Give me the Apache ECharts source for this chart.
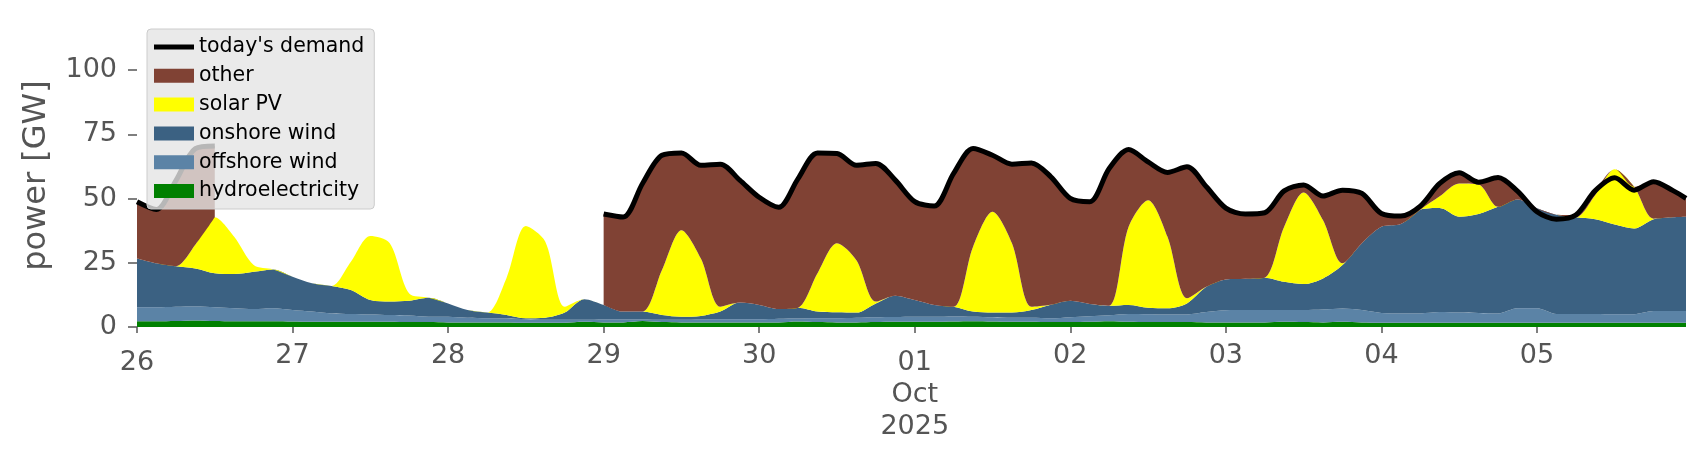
<!DOCTYPE html>
<html>
<head>
<meta charset="utf-8">
<script src="https://cdn.jsdelivr.net/npm/echarts@6/dist/echarts.min.js"></script>
<style>
  html, body { margin: 0; padding: 0; background: #fff; }
  #chart { width: 1706px; height: 460px; }
</style>
</head>
<body>
<div id="chart"></div>
<script>
// hours since 26 Sep 2025 00:00, one sample every 3 h, last one 5 Oct 23:00
const hours = [];
for (let h = 0; h <= 237; h += 3) hours.push(h);
hours.push(239);

const dayLabels = ['26', '27', '28', '29', '30', '01', '02', '03', '04', '05'];
const monthStart = '01';
const monthLabel = ['Oct', '2025'];
const yTicks = [0, 25, 50, 75, 100];

// GW (8 values per day)
const hydro = [
  2.2, 2.2, 2.3, 2.5, 2.3, 2.2, 2.2, 2.2,
  2.1, 2.0, 2.0, 2.0, 2.0, 2.0, 1.9, 1.9,
  1.8, 1.8, 1.8, 1.8, 1.7, 1.7, 1.7, 2.0,
  1.8, 1.8, 2.3, 1.9, 1.8, 1.8, 1.8, 1.8,
  1.8, 1.8, 2.1, 1.9, 1.8, 1.8, 1.9, 2.0,
  2.0, 2.0, 2.1, 2.2, 2.1, 2.0, 2.0, 1.9,
  1.9, 2.0, 2.2, 2.0, 1.9, 1.9, 1.9, 1.8,
  1.8, 1.8, 1.8, 2.0, 1.9, 1.8, 2.0, 1.8,
  1.7, 1.7, 1.7, 1.7, 1.7, 1.7, 1.7, 1.7,
  1.7, 1.7, 1.7, 1.7, 1.7, 1.7, 1.7, 1.7,
  1.7
];
const offshore = [
  5.5, 5.5, 5.6, 5.5, 5.4, 5.1, 4.8, 5.1,
  4.5, 4.0, 3.3, 3.1, 2.9, 2.7, 2.6, 2.1,
  2.2, 1.8, 1.6, 1.5, 1.3, 1.1, 1.1, 0.8,
  1.1, 1.1, 0.6, 0.9, 1.0, 1.1, 1.2, 1.2,
  1.2, 1.4, 1.2, 1.5, 1.6, 1.8, 1.9, 1.9,
  2.0, 2.0, 2.0, 1.8, 1.7, 1.6, 1.6, 1.5,
  1.9, 2.2, 2.4, 3.1, 3.1, 3.0, 3.0, 4.0,
  4.7, 4.8, 4.8, 4.6, 4.7, 5.0, 5.2, 4.8,
  3.8, 3.6, 3.6, 4.1, 3.9, 3.8, 3.6, 5.6,
  5.6, 3.4, 3.4, 3.4, 3.3, 3.3, 4.5, 4.5,
  4.5
];
const onshore = [
  19.0, 17.1, 15.8, 14.8, 13.2, 13.3, 14.5, 15.1,
  13.0, 11.0, 10.7, 9.3, 5.6, 5.2, 5.7, 7.4,
  5.2, 3.0, 2.2, 1.4, 0.4, 0.8, 2.8, 8.0,
  5.7, 3.1, 3.1, 1.9, 1.2, 1.4, 3.0, 6.5,
  5.6, 3.8, 4.2, 2.6, 2.3, 2.0, 5.4, 8.3,
  6.5, 4.6, 3.8, 2.0, 1.8, 2.0, 3.0, 5.3,
  6.4, 4.8, 3.7, 3.5, 2.5, 2.4, 4.3, 9.9,
  12.0, 12.2, 12.6, 11.0, 10.1, 12.1, 16.9, 26.0,
  33.5, 34.8, 40.4, 40.5, 37.3, 38.5, 41.5, 42.4,
  38.9, 38.6, 37.6, 36.9, 34.9, 33.4, 35.8, 36.5,
  36.7
];
const solar = [
  0, 0, 0, 9.2, 21.8, 14.5, 2.6, 0,
  0, 0, 0, 11.0, 24.9, 22.7, 2.8, 0,
  0, 0, 0, 14.3, 35.9, 29.6, 2.3, 0,
  0, 0, 0, 17.5, 33.7, 22.4, 1.9, 0,
  0, 0, 0, 14.9, 26.9, 20.4, 0.7, 0,
  0, 0, 0, 25.3, 39.3, 27.0, 1.3, 0,
  0, 0, 0, 30.4, 41.9, 27.8, 2.0, 0,
  0, 0, 0, 21.4, 35.7, 22.7, 0.7, 0,
  0, 0, 0, 4.6, 13.0, 11.5, 0, 0,
  0, 0, 0, 9.4, 21.5, 16.2, 0.2, 0,
  0
];
const other = [
  22.1, 21.0, 33.3, 37.5, 27.8, null, null, null,
  null, null, null, null, null, null, null, null,
  null, null, null, null, null, null, null, null,
  35.4, 36.8, 49.9, 44.7, 30.1, 36.3, 55.5, 47.7,
  41.9, 39.6, 50.3, 46.9, 35.0, 37.0, 53.8, 45.0,
  38.3, 38.5, 51.9, 38.2, 22.0, 30.8, 56.0, 49.8,
  39.9, 39.8, 53.4, 30.1, 14.9, 25.1, 51.2, 38.9,
  27.8, 25.2, 25.3, 14.0, 2.9, 9.4, 28.5, 19.4,
  5.2, 3.1, 1.4, 5.0, 4.2, 0.9, 11.4, 3.2,
  0, 0, 0.9, 1.7, 0, 0, 14.4, 10.4,
  7.2
];
const demand = [
  48.8, 45.8, 57.0, 69.5, 70.5, null, null, null,
  null, null, null, null, null, null, null, null,
  null, null, null, null, null, null, null, null,
  44.0, 42.8, 55.9, 66.9, 67.8, 63.0, 63.4, 57.2,
  50.5, 46.6, 57.8, 67.8, 67.6, 63.0, 63.7, 57.2,
  48.8, 47.1, 59.8, 69.5, 66.9, 63.4, 63.9, 58.5,
  50.1, 48.8, 61.7, 69.1, 64.3, 60.2, 62.4, 54.6,
  46.3, 44.0, 44.5, 53.0, 55.3, 51.0, 53.3, 52.0,
  44.2, 43.2, 47.1, 55.9, 60.1, 56.4, 58.2, 52.9,
  44.9, 42.0, 43.6, 53.1, 58.1, 53.3, 56.6, 53.1,
  50.1
];

const t0 = Date.UTC(2025, 8, 26);
const HOUR = 3600 * 1000;
const DAY = 24 * HOUR;
const pairs = (arr) => hours.map((h, i) => [t0 + h * HOUR, arr[i]]);
const font = 'DejaVu Sans';
const grey = '#555555';

const area = (name, values, color) => ({
  name: name,
  type: 'line',
  stack: 'gen',
  data: pairs(values),
  smooth: 0.3,
  symbol: 'none',
  lineStyle: { width: 0 },
  itemStyle: { color: color },
  areaStyle: { color: color, opacity: 1 },
  emphasis: { disabled: true },
  z: 2
});

const chart = echarts.init(document.getElementById('chart'));

chart.setOption({
  animation: false,
  useUTC: true,
  backgroundColor: '#ffffff',
  grid: { left: 137, right: 20, top: 24, bottom: 133, outerBoundsMode: 'none' },
  legend: {
    orient: 'vertical',
    left: 147,
    top: 29,
    padding: [7, 10, 7, 7],
    itemWidth: 40,
    itemHeight: 14,
    itemGap: 6.8,
    itemTextGap: 15,
    symbolKeepAspect: true,
    selectedMode: false,
    backgroundColor: 'rgba(229,229,229,0.8)',
    borderColor: '#cccccc',
    borderWidth: 1,
    borderRadius: 4,
    itemStyle: { borderWidth: 0 },
    textStyle: { fontSize: 20.5, lineHeight: 22, color: '#000', fontFamily: font },
    data: [
      { name: "today's demand", icon: 'path://M0 0H40V5H0Z' },
      { name: 'other', icon: 'rect' },
      { name: 'solar PV', icon: 'rect' },
      { name: 'onshore wind', icon: 'rect' },
      { name: 'offshore wind', icon: 'rect' },
      { name: 'hydroelectricity', icon: 'rect' }
    ]
  },
  xAxis: {
    type: 'time',
    min: t0,
    max: t0 + 239 * HOUR,
    minInterval: DAY,
    maxInterval: DAY,
    axisLine: { show: false },
    splitLine: { show: false },
    axisTick: { show: true, length: 6, lineStyle: { color: grey, width: 1.5 } },
    axisLabel: {
      margin: 13,
      hideOverlap: false,
      formatter: (v) => {
        const i = Math.round((v - t0) / DAY);
        const d = dayLabels[i];
        if (d === undefined || Math.abs(v - (t0 + i * DAY)) > HOUR) return '';
        if (i === 0) return '{sp| }\n{t|' + d + '}';
        if (d === monthStart) {
          return '{sp| }\n{t|' + d + '}\n{t|' + monthLabel[0] + '}\n{t|' + monthLabel[1] + '}';
        }
        return '{t|' + d + '}';
      },
      rich: {
        t: { fontSize: 27, lineHeight: 32, color: grey, fontFamily: font },
        sp: { fontSize: 1, lineHeight: 7 }
      }
    }
  },
  yAxis: {
    type: 'value',
    min: 0,
    max: 118,
    name: 'power [GW]',
    nameLocation: 'middle',
    nameRotate: 90,
    nameGap: 84,
    nameTextStyle: { fontSize: 32, color: grey, fontFamily: font },
    axisLine: { show: false },
    splitLine: { show: false },
    axisTick: { show: true, length: 9, customValues: yTicks, lineStyle: { color: grey, width: 1.5 } },
    axisLabel: { customValues: yTicks, margin: 20, fontSize: 27, color: grey, fontFamily: font }
  },
  series: [
    area('hydroelectricity', hydro, '#008000'),
    area('offshore wind', offshore, '#5b83a6'),
    area('onshore wind', onshore, '#3b6182'),
    area('solar PV', solar, '#ffff00'),
    area('other', other, '#804234'),
    {
      name: "today's demand",
      type: 'line',
      data: pairs(demand),
      smooth: 0.3,
      symbol: 'none',
      lineStyle: { color: '#000000', width: 5 },
      itemStyle: { color: '#000000' },
      emphasis: { disabled: true },
      z: 3
    }
  ]
});
</script>
</body>
</html>
